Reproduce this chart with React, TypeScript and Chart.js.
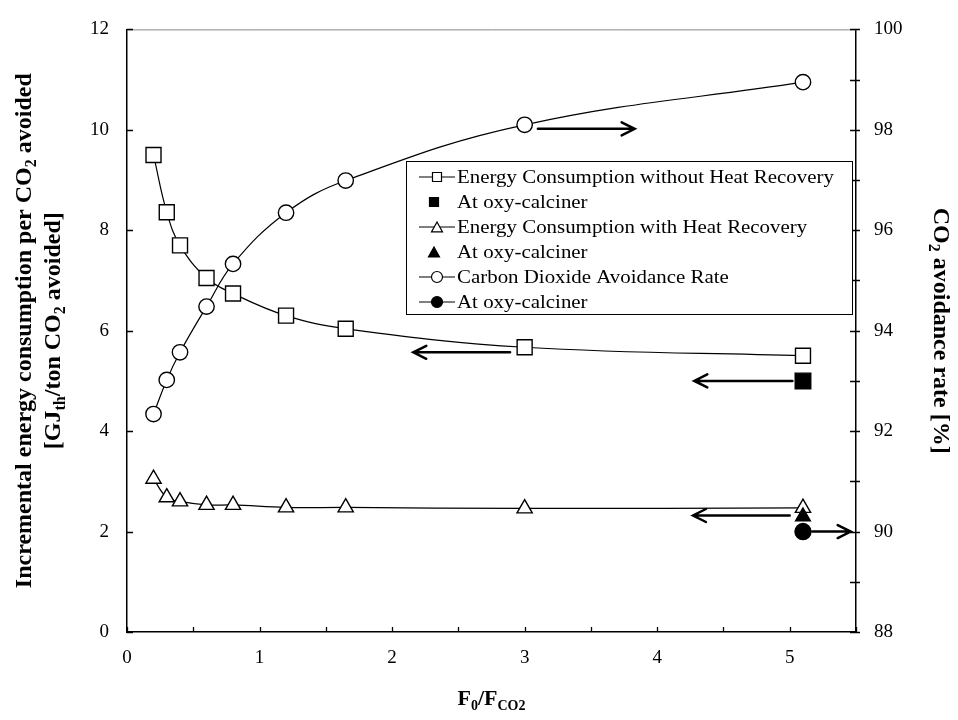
import React, { useEffect, useRef } from "react";
import { Chart, registerables } from "chart.js";

Chart.register(...registerables);

// ---------- data ----------
const feedRatio = [0.2, 0.3, 0.4, 0.6, 0.8, 1.2, 1.65, 3.0, 5.1];
const energyWithoutHeatRecovery = [9.5, 8.36, 7.7, 7.05, 6.74, 6.3, 6.04, 5.67, 5.5];
const energyWithHeatRecovery = [3.05, 2.68, 2.6, 2.53, 2.53, 2.48, 2.48, 2.46, 2.47];
const co2AvoidanceRate = [92.34, 93.02, 93.57, 94.48, 95.33, 96.35, 96.99, 98.1, 98.95];

const oxyCalcinerRatio = [5.1];
const oxyEnergyWithoutHR = [5.0];
const oxyEnergyWithHR = [2.3];
const oxyAvoidanceRate = [90.0];

const xTickValues = [0, 1, 2, 3, 4, 5];
const leftTickValues = [0, 2, 4, 6, 8, 10, 12];
const rightTickValues = [88, 90, 92, 94, 96, 98, 100];

const legendLabels = [
  "Energy Consumption without Heat Recovery",
  "At oxy-calciner",
  "Energy Consumption with Heat Recovery",
  "At oxy-calciner",
  "Carbon Dioxide Avoidance Rate",
  "At oxy-calciner",
];

// annotation arrows (x from -> x to, level on the given axis)
const arrowFrom = [3.1, 2.89, 5.02, 5.0, 5.17];
const arrowTo = [3.83, 2.16, 4.28, 4.27, 5.46];
const arrowLevel = [98.02, 5.57, 5.0, 2.32, 90.0];
const arrowAxis = ["yRight", "y", "y", "y", "yRight"];

// ---------- helpers ----------
const SERIF = "'Liberation Serif', 'Times New Roman', Times, serif";

type Part = [string, boolean];

function richWidth(ctx: CanvasRenderingContext2D, parts: Part[], size: number) {
  return parts.map(([t, sub]) => {
    ctx.font = `bold ${sub ? Math.round(size * 0.65) : size}px ${SERIF}`;
    return ctx.measureText(t).width;
  });
}

function drawRich(ctx: CanvasRenderingContext2D, parts: Part[], size: number, x: number, y: number) {
  const widths = richWidth(ctx, parts, size);
  const total = widths.reduce((a, b) => a + b, 0);
  let cx = x - total / 2;
  ctx.textBaseline = "alphabetic";
  ctx.textAlign = "left";
  parts.forEach(([t, sub], i) => {
    ctx.font = `bold ${sub ? Math.round(size * 0.65) : size}px ${SERIF}`;
    ctx.fillText(t, cx, sub ? y + size * 0.22 : y);
    cx += widths[i];
  });
}

function drawMarker(ctx: CanvasRenderingContext2D, style: string, x: number, y: number, size: number, filled: boolean) {
  ctx.beginPath();
  if (style === "rect") {
    ctx.rect(x - size / 2, y - size / 2, size, size);
  } else if (style === "circle") {
    ctx.arc(x, y, size / 2, 0, Math.PI * 2);
  } else {
    const h = size * 0.9;
    ctx.moveTo(x, y - h / 2);
    ctx.lineTo(x + size / 2, y + h / 2);
    ctx.lineTo(x - size / 2, y + h / 2);
    ctx.closePath();
  }
  ctx.fillStyle = filled ? "#000" : "#fff";
  ctx.fill();
  ctx.stroke();
}

const decorPlugin = {
  id: "decor",
  afterDraw(chart: any) {
    const ctx: CanvasRenderingContext2D = chart.ctx;
    const { left, right, top, bottom } = chart.chartArea;
    const xs = chart.scales.x;
    const yl = chart.scales.y;
    const yr = chart.scales.yRight;
    ctx.save();

    // top border
    ctx.strokeStyle = "#888";
    ctx.lineWidth = 1;
    ctx.beginPath();
    ctx.moveTo(left, top + 0.5);
    ctx.lineTo(right, top + 0.5);
    ctx.stroke();

    // tick marks
    ctx.strokeStyle = "#000";
    ctx.lineWidth = 1.3;
    ctx.beginPath();
    for (let v = 0; v <= 5.5 + 1e-9; v += 0.5) {
      const px = Math.round(xs.getPixelForValue(v)) + 0.5;
      ctx.moveTo(px, bottom);
      ctx.lineTo(px, bottom - 5);
    }
    leftTickValues.forEach((v) => {
      const py = Math.round(yl.getPixelForValue(v)) + 0.5;
      ctx.moveTo(left, py);
      ctx.lineTo(left + 6, py);
    });
    for (let v = 88; v <= 100; v += 1) {
      const py = Math.round(yr.getPixelForValue(v)) + 0.5;
      ctx.moveTo(right - 6, py);
      ctx.lineTo(right + 4, py);
    }
    ctx.stroke();

    // arrows
    ctx.lineWidth = 2.5;
    ctx.lineCap = "round";
    ctx.lineJoin = "miter";
    arrowFrom.forEach((from, i) => {
      const sc = arrowAxis[i] === "yRight" ? yr : yl;
      const x1 = xs.getPixelForValue(from);
      const x2 = xs.getPixelForValue(arrowTo[i]);
      const y = sc.getPixelForValue(arrowLevel[i]);
      const dir = Math.sign(x2 - x1);
      ctx.beginPath();
      ctx.moveTo(x1, y);
      ctx.lineTo(x2, y);
      ctx.moveTo(x2 - dir * 13, y - 6.5);
      ctx.lineTo(x2, y);
      ctx.lineTo(x2 - dir * 13, y + 6.5);
      ctx.stroke();
    });
    ctx.lineCap = "butt";

    // legend
    const bx = 406, by = 161, bw = 446, bh = 153;
    ctx.fillStyle = "#fff";
    ctx.fillRect(bx, by, bw, bh);
    ctx.strokeStyle = "#000";
    ctx.lineWidth = 1;
    ctx.strokeRect(bx + 0.5, by + 0.5, bw, bh);
    chart.data.datasets.forEach((ds: any, i: number) => {
      const cy = by + 16 + i * 25;
      const mx = 437;
      ctx.strokeStyle = "#000";
      ctx.lineWidth = 1.2;
      if (ds.legendLine) {
        ctx.beginPath();
        ctx.moveTo(419, cy);
        ctx.lineTo(455, cy);
        ctx.stroke();
      }
      const filled = ds.pointBackgroundColor === "#000";
      const size = ds.pointStyle === "rect" ? 9 : 11;
      drawMarker(ctx, ds.pointStyle, ds.legendLine ? mx : 434, cy, size, filled);
      ctx.save();
      ctx.fillStyle = "#000";
      ctx.font = `19px ${SERIF}`;
      ctx.textBaseline = "middle";
      ctx.textAlign = "left";
      ctx.translate(457, cy + 1);
      ctx.scale(1.1, 1);
      ctx.fillText(legendLabels[i], 0, 0);
      ctx.restore();
    });

    // axis titles
    ctx.fillStyle = "#000";
    const midY = (top + bottom) / 2;
    ctx.save();
    ctx.translate(31, midY);
    ctx.rotate(-Math.PI / 2);
    drawRich(ctx, [["Incremental energy consumption per CO", false], ["2", true], [" avoided", false]], 24, 0, 0);
    ctx.restore();
    ctx.save();
    ctx.translate(60, midY);
    ctx.rotate(-Math.PI / 2);
    drawRich(ctx, [["[GJ", false], ["th", true], ["/ton CO", false], ["2", true], [" avoided]", false]], 24, 0, 0);
    ctx.restore();
    ctx.save();
    ctx.translate(934, midY);
    ctx.rotate(Math.PI / 2);
    drawRich(ctx, [["CO", false], ["2", true], [" avoidance rate [%]", false]], 24, 0, 0);
    ctx.restore();
    drawRich(ctx, [["F", false], ["0", true], ["/F", false], ["CO2", true]], 22, (left + right) / 2, 705);

    ctx.restore();
  },
};

function pts(xs: number[], ys: number[]) {
  return xs.map((x, i) => ({ x, y: ys[i] }));
}

export default function App() {
  const ref = useRef<HTMLCanvasElement>(null);

  useEffect(() => {
    document.body.style.margin = "0";
    const canvas = ref.current!;
    const tickFont = { family: SERIF, size: 19 };
    const lineBase = {
      borderColor: "#000",
      pointBorderColor: "#000",
      pointBorderWidth: 1.4,
      borderWidth: 1.2,
      tension: 0.4,
    };
    const chart = new Chart(canvas, {
      type: "line",
      data: {
        datasets: [
          {
            ...lineBase,
            label: legendLabels[0],
            data: pts(feedRatio, energyWithoutHeatRecovery),
            yAxisID: "y",
            pointStyle: "rect",
            pointRadius: 10.6,
            pointBackgroundColor: "#fff",
            legendLine: true,
            order: 2,
          } as any,
          {
            ...lineBase,
            label: legendLabels[1],
            data: pts(oxyCalcinerRatio, oxyEnergyWithoutHR),
            yAxisID: "y",
            showLine: false,
            pointStyle: "rect",
            pointRadius: 11,
            pointBackgroundColor: "#000",
            legendLine: false,
            order: 1,
          } as any,
          {
            ...lineBase,
            label: legendLabels[2],
            data: pts(feedRatio, energyWithHeatRecovery),
            yAxisID: "y",
            pointStyle: "triangle",
            pointRadius: 8.8,
            pointBackgroundColor: "#fff",
            legendLine: true,
            order: 2,
          } as any,
          {
            ...lineBase,
            label: legendLabels[3],
            data: pts(oxyCalcinerRatio, oxyEnergyWithHR),
            yAxisID: "y",
            showLine: false,
            pointStyle: "triangle",
            pointRadius: 8.5,
            pointBackgroundColor: "#000",
            legendLine: false,
            order: 1,
          } as any,
          {
            ...lineBase,
            label: legendLabels[4],
            data: pts(feedRatio, co2AvoidanceRate),
            yAxisID: "yRight",
            pointStyle: "circle",
            pointRadius: 7.7,
            pointBackgroundColor: "#fff",
            legendLine: true,
            order: 2,
          } as any,
          {
            ...lineBase,
            label: legendLabels[5],
            data: pts(oxyCalcinerRatio, oxyAvoidanceRate),
            yAxisID: "yRight",
            showLine: false,
            pointStyle: "circle",
            pointRadius: 8,
            pointBackgroundColor: "#000",
            legendLine: true,
            order: 1,
          } as any,
        ],
      },
      options: {
        responsive: false,
        animation: false,
        devicePixelRatio: 1,
        layout: { padding: { top: 16, left: 0, right: 0, bottom: 0 } },
        plugins: {
          legend: { display: false },
          tooltip: { enabled: false },
        },
        scales: {
          x: {
            type: "linear",
            min: 0,
            max: 5.5,
            afterBuildTicks: (s: any) => {
              s.ticks = xTickValues.map((v) => ({ value: v }));
            },
            afterFit: (s: any) => {
              s.height = 88;
            },
            ticks: { font: tickFont, color: "#000", padding: 15 },
            grid: { display: false, drawTicks: false },
            border: { display: true, color: "#000", width: 1.5 },
          },
          y: {
            type: "linear",
            position: "left",
            min: 0,
            max: 12,
            afterBuildTicks: (s: any) => {
              s.ticks = leftTickValues.map((v) => ({ value: v }));
            },
            afterFit: (s: any) => {
              s.width = 127;
            },
            ticks: { font: tickFont, color: "#000", padding: 18 },
            grid: { display: false, drawTicks: false },
            border: { display: true, color: "#000", width: 1.5 },
          },
          yRight: {
            type: "linear",
            position: "right",
            min: 88,
            max: 100,
            afterBuildTicks: (s: any) => {
              s.ticks = rightTickValues.map((v) => ({ value: v }));
            },
            afterFit: (s: any) => {
              s.width = 102;
            },
            ticks: { font: tickFont, color: "#000", padding: 18 },
            grid: { display: false, drawTicks: false },
            border: { display: true, color: "#000", width: 1.5 },
          },
        },
      } as any,
      plugins: [decorPlugin],
    });
    return () => chart.destroy();
  }, []);

  return (
    <div style={{ width: 958, height: 720 }}>
      <canvas ref={ref} width={958} height={720} style={{ display: "block" }} />
    </div>
  );
}
